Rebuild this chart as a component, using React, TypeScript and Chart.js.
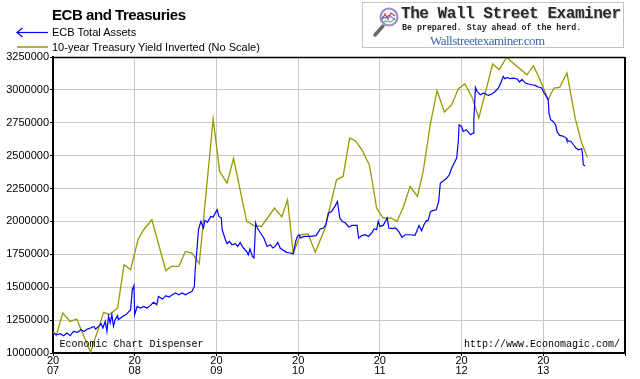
import React, { useEffect, useRef } from 'react';
import { Chart, registerables } from 'chart.js';

Chart.register(...registerables);

// ---- Data ----
const yearTicks = [2007, 2008, 2009, 2010, 2011, 2012, 2013, 2014];
const yMin = 1000000;
const yMax = 3250000;
const yStep = 250000;

// ECB Total Assets (weekly)
const ecbDates = [
  2007.00, 2007.05, 2007.09, 2007.13, 2007.17, 2007.21, 2007.25, 2007.30, 2007.34, 2007.38,
  2007.42, 2007.46, 2007.50, 2007.52, 2007.56, 2007.59, 2007.61, 2007.64, 2007.66, 2007.68,
  2007.70, 2007.72, 2007.74, 2007.76, 2007.79, 2007.80, 2007.85, 2007.89, 2007.92, 2007.95,
  2007.97, 2007.99, 2008.00, 2008.03, 2008.07, 2008.11, 2008.15, 2008.19, 2008.23, 2008.27,
  2008.29, 2008.34, 2008.38, 2008.42, 2008.46, 2008.50, 2008.54, 2008.58, 2008.62, 2008.66,
  2008.70, 2008.73, 2008.74, 2008.76, 2008.78, 2008.81, 2008.84, 2008.86, 2008.89, 2008.93,
  2008.96, 2008.99, 2009.01, 2009.03, 2009.06, 2009.07, 2009.11, 2009.13, 2009.16, 2009.19,
  2009.23, 2009.26, 2009.29, 2009.33, 2009.37, 2009.39, 2009.41, 2009.44, 2009.46, 2009.48,
  2009.50, 2009.54, 2009.58, 2009.62, 2009.66, 2009.69, 2009.72, 2009.75, 2009.78, 2009.82,
  2009.86, 2009.90, 2009.94, 2009.97, 2009.99, 2010.01, 2010.03, 2010.07, 2010.15, 2010.22,
  2010.27, 2010.31, 2010.34, 2010.37, 2010.41, 2010.45, 2010.48, 2010.51, 2010.54, 2010.58,
  2010.62, 2010.66, 2010.72, 2010.74, 2010.78, 2010.82, 2010.86, 2010.90, 2010.93, 2010.96,
  2010.98, 2011.00, 2011.04, 2011.09, 2011.11, 2011.15, 2011.19, 2011.23, 2011.27, 2011.31,
  2011.37, 2011.43, 2011.45, 2011.48, 2011.51, 2011.54, 2011.57, 2011.59, 2011.62, 2011.65,
  2011.69, 2011.72, 2011.74, 2011.78, 2011.82, 2011.85, 2011.88, 2011.91, 2011.94, 2011.96,
  2011.97, 2012.00, 2012.02, 2012.06, 2012.08, 2012.11, 2012.14, 2012.15, 2012.17, 2012.19,
  2012.23, 2012.27, 2012.31, 2012.33, 2012.37, 2012.41, 2012.45, 2012.48, 2012.51, 2012.53,
  2012.56, 2012.59, 2012.63, 2012.68, 2012.71, 2012.74, 2012.78, 2012.82, 2012.86, 2012.90,
  2012.94, 2012.98, 2013.01, 2013.03, 2013.06, 2013.07, 2013.09, 2013.12, 2013.15, 2013.17,
  2013.20, 2013.24, 2013.28, 2013.29, 2013.34, 2013.37, 2013.40, 2013.43, 2013.47, 2013.48,
  2013.49, 2013.51,
];
const ecbValues = [
  1152000, 1139000, 1147000, 1131500, 1152000, 1131500, 1164000, 1157000, 1177000, 1164000,
  1182000, 1190000, 1202000, 1182000, 1202000, 1223000, 1190000, 1240000, 1164000, 1278000,
  1228000, 1291000, 1202000, 1253000, 1284000, 1253000, 1278000, 1291000, 1309000, 1329000,
  1481000, 1512000, 1291000, 1354000, 1342000, 1354000, 1342000, 1360000, 1385000, 1367000,
  1430000, 1410000, 1436000, 1426000, 1443000, 1456000, 1443000, 1456000, 1443000, 1456000,
  1468000, 1506000, 1633000, 1772000, 1937000, 2000000, 1950000, 2008000, 1993000, 2038000,
  2034000, 2069000, 2089000, 2038000, 2026000, 1937000, 1861000, 1831000, 1848000, 1823000,
  1831000, 1810000, 1841000, 1798000, 1772000, 1747000, 1790000, 1734000, 1722000, 1988000,
  1950000, 1912000, 1874000, 1810000, 1823000, 1798000, 1810000, 1841000, 1798000, 1780000,
  1765000, 1760000, 1755000, 1848000, 1886000, 1899000, 1874000, 1886000, 1886000, 1892000,
  1943000, 1950000, 1975000, 2064000, 2076000, 2114000, 2152000, 2026000, 2000000, 1988000,
  1958000, 1970000, 1970000, 1874000, 1892000, 1899000, 1886000, 1912000, 1945000, 1937000,
  2000000, 1962000, 1970000, 2026000, 1950000, 1945000, 1950000, 1924000, 1879000, 1899000,
  1899000, 1894000, 1924000, 1970000, 1930000, 1975000, 2006000, 2006000, 2076000, 2082000,
  2089000, 2152000, 2292000, 2310000, 2330000, 2355000, 2406000, 2444000, 2482000, 2608000,
  2735000, 2722000, 2684000, 2697000, 2680000, 2659000, 2672000, 2773000, 3019000, 2988000,
  2963000, 2976000, 2963000, 2958000, 2969000, 2988000, 3014000, 3052000, 3102000, 3085000,
  3095000, 3085000, 3090000, 3083000, 3060000, 3080000, 3052000, 3045000, 3039000, 3034000,
  3022000, 3014000, 2976000, 2958000, 2925000, 2824000, 2773000, 2760000, 2735000, 2680000,
  2654000, 2649000, 2634000, 2614000, 2608000, 2583000, 2558000, 2545000, 2553000, 2507000,
  2431000, 2421000,
];

// 10-year Treasury Yield Inverted (no scale; read in the chart's axis units)
const tsyDates = [
  2007.00, 2007.04, 2007.12, 2007.21, 2007.29, 2007.46, 2007.62, 2007.69, 2007.79, 2007.87,
  2007.95, 2008.04, 2008.11, 2008.21, 2008.38, 2008.45, 2008.54, 2008.62, 2008.70, 2008.79,
  2008.96, 2009.04, 2009.13, 2009.21, 2009.37, 2009.46, 2009.55, 2009.71, 2009.80, 2009.87,
  2009.94, 2010.03, 2010.12, 2010.21, 2010.33, 2010.43, 2010.47, 2010.55, 2010.63, 2010.70,
  2010.78, 2010.87, 2010.90, 2010.96, 2011.04, 2011.13, 2011.21, 2011.29, 2011.37, 2011.46,
  2011.53, 2011.62, 2011.70, 2011.79, 2011.88, 2011.96, 2012.04, 2012.13, 2012.21, 2012.29,
  2012.38, 2012.46, 2012.55, 2012.63, 2012.80, 2012.88, 2012.96, 2013.06, 2013.13, 2013.20,
  2013.29, 2013.39, 2013.47, 2013.54,
];
const tsyValues = [
  1164000, 1131500, 1304000, 1240000, 1258000, 1005000, 1309000, 1291000, 1342000, 1671000,
  1633000, 1861000, 1937000, 2013000, 1628000, 1658000, 1658000, 1772000, 1760000, 1679000,
  2779000, 2380000, 2292000, 2479000, 2000000, 1968000, 1962000, 2102000, 2034000, 2165000,
  1760000, 1899000, 1907000, 1765000, 1950000, 2216000, 2317000, 2342000, 2634000, 2614000,
  2545000, 2431000, 2330000, 2102000, 2026000, 2026000, 2000000, 2114000, 2266000, 2190000,
  2380000, 2748000, 2994000, 2832000, 2887000, 3009000, 3045000, 2943000, 2786000, 2976000,
  3197000, 3153000, 3247000, 3204000, 3115000, 3184000, 3077000, 2925000, 3014000, 3019000,
  3128000, 2786000, 2596000, 2487000,
];

const TICK_FONT = { family: '"Liberation Sans", Arial, sans-serif', size: 11 };

const framePlugin = {
  id: 'frame',
  afterDraw(chart: any) {
    const { ctx, chartArea } = chart;
    ctx.save();
    ctx.strokeStyle = '#000';
    ctx.lineWidth = 1.5;
    ctx.beginPath();
    ctx.moveTo(chartArea.left, chartArea.top + 0.5);
    ctx.lineTo(chartArea.right, chartArea.top + 0.5);
    ctx.stroke();
    ctx.lineWidth = 2;
    ctx.beginPath();
    ctx.moveTo(chartArea.right, chartArea.top);
    ctx.lineTo(chartArea.right, chartArea.bottom);
    ctx.stroke();
    ctx.restore();
  },
};

const abs = (left: number, top: number, extra: any = {}) => ({
  position: 'absolute' as const,
  left,
  top,
  whiteSpace: 'nowrap' as const,
  ...extra,
});

export default function App() {
  const canvasRef = useRef<HTMLCanvasElement | null>(null);

  useEffect(() => {
    const canvas = canvasRef.current;
    if (!canvas) return;
    const chart = new Chart(canvas, {
      type: 'line',
      data: {
        datasets: [
          {
            label: 'ECB Total Assets',
            data: ecbDates.map((d, i) => ({ x: d, y: ecbValues[i] })),
            borderColor: '#0000ff',
            borderWidth: 1.2,
            pointRadius: 0,
            tension: 0,
            fill: false,
          },
          {
            label: '10-year Treasury Yield Inverted (No Scale)',
            data: tsyDates.map((d, i) => ({ x: d, y: tsyValues[i] })),
            borderColor: '#999900',
            borderWidth: 1.3,
            pointRadius: 0,
            tension: 0,
            fill: false,
          },
        ],
      },
      options: {
        responsive: false,
        animation: false,
        devicePixelRatio: 1,
        layout: { padding: { top: 57, right: 15, left: 0, bottom: 0 } },
        plugins: {
          legend: { display: false },
          tooltip: { enabled: false },
          title: { display: false },
        },
        scales: {
          x: {
            type: 'linear',
            min: yearTicks[0],
            max: yearTicks[yearTicks.length - 1],
            afterFit: (scale: any) => {
              scale.height = 26;
            },
            afterBuildTicks: (scale: any) => {
              scale.ticks = yearTicks.map((v) => ({ value: v }));
            },
            ticks: {
              autoSkip: false,
              maxRotation: 0,
              minRotation: 0,
              padding: 0,
              color: '#000',
              font: { ...TICK_FONT, lineHeight: '10px' },
              callback: (v: any) => {
                const n = Number(v);
                if (n === yearTicks[yearTicks.length - 1]) return '';
                const s = String(n);
                return [s.slice(0, 2), s.slice(2)];
              },
            },
            grid: {
              color: '#c8c8c8',
              tickColor: '#000',
              tickLength: 3,
              lineWidth: 1,
            },
            border: { color: '#000', width: 2 },
          },
          y: {
            min: yMin,
            max: yMax,
            afterFit: (scale: any) => {
              scale.width = 53;
            },
            ticks: {
              stepSize: yStep,
              padding: 1,
              color: '#000',
              font: TICK_FONT,
              callback: (v: any) => String(v),
            },
            grid: {
              color: '#c8c8c8',
              tickColor: '#000',
              tickLength: 3,
              lineWidth: 1,
            },
            border: { color: '#000', width: 2 },
          },
        },
      },
      plugins: [framePlugin],
    } as any);
    return () => chart.destroy();
  }, []);

  const sans = '"Liberation Sans", Arial, sans-serif';
  const mono = '"Liberation Mono", "Courier New", monospace';

  return (
    <div style={{ position: 'absolute', left: 0, top: 0, width: 640, height: 379, background: '#fff' }}>
      <canvas ref={canvasRef} width={640} height={379} style={{ position: 'absolute', left: 0, top: 0 }} />

      {/* Title */}
      <div style={abs(52, 6.3, { font: `bold 15px ${sans}`, lineHeight: '17px', letterSpacing: '-0.45px', color: '#000' })}>
        ECB and Treasuries
      </div>

      {/* Legend */}
      <svg width={40} height={30} style={abs(14, 24)}>
        <line x1={3} y1={8.5} x2={34} y2={8.5} stroke="#0000ff" strokeWidth={1.2} />
        <polyline points="8.5,4 3,8.5 8.5,13" fill="none" stroke="#0000ff" strokeWidth={1.2} />
        <line x1={3} y1={23} x2={34} y2={23} stroke="#999900" strokeWidth={1.5} />
      </svg>
      <div style={abs(52, 26, { font: `11px ${sans}`, lineHeight: '13px', color: '#000' })}>ECB Total Assets</div>
      <div style={abs(52, 40.5, { font: `11px ${sans}`, lineHeight: '13px', color: '#000' })}>
        10-year Treasury Yield Inverted (No Scale)
      </div>

      {/* Logo box */}
      <div
        style={abs(362, 2, {
          width: 262,
          height: 46,
          border: '1px solid #c4c4c4',
          background: '#fff',
          boxSizing: 'border-box',
          overflow: 'hidden',
        })}
      >
        <svg width={30} height={34} style={abs(8, 2)}>
          <line x1={4} y1={30} x2={12} y2={21} stroke="#6a6a6a" strokeWidth={3.5} strokeLinecap="round" />
          <circle cx={18} cy={12} r={8.5} fill="#f4f4ff" stroke="#9a90c0" strokeWidth={2.2} />
          <polyline points="11,15 14,9 17,14 20,8 24,11" fill="none" stroke="#d03a3a" strokeWidth={1.1} />
          <polyline points="11,12 15,13 18,10 24,15" fill="none" stroke="#3a5ad0" strokeWidth={1} />
          <polyline points="12,17 16,16 20,17 24,13" fill="none" stroke="#3aa05a" strokeWidth={0.9} />
        </svg>
        <div
          style={abs(38, 2, {
            font: `bold 16px ${mono}`,
            lineHeight: '18px',
            letterSpacing: '-0.45px',
            color: '#2a2a2a',
            textShadow: '1px 1px 0 #c8c8c8',
          })}
        >
          The Wall Street Examiner
        </div>
        <div style={abs(39, 20, { font: `bold 8.3px ${mono}`, lineHeight: '10px', color: '#222' })}>
          Be prepared. Stay ahead of the herd.
        </div>
        <div
          style={abs(67, 30, {
            font: `13px "Liberation Serif", "Times New Roman", serif`,
            lineHeight: '15px',
            letterSpacing: '-0.5px',
            color: '#3b68aa',
          })}
        >
          Wallstreetexaminer.com
        </div>
      </div>

      {/* Footer texts inside plot */}
      <div style={abs(59.5, 338.8, { font: `10px ${mono}`, lineHeight: '12px', color: '#000' })}>
        Economic Chart Dispenser
      </div>
      <div style={abs(0, 338.8, { left: 'auto', right: 20, font: `10px ${mono}`, lineHeight: '12px', color: '#000' })}>
        http://www.Economagic.com/
      </div>
    </div>
  );
}
